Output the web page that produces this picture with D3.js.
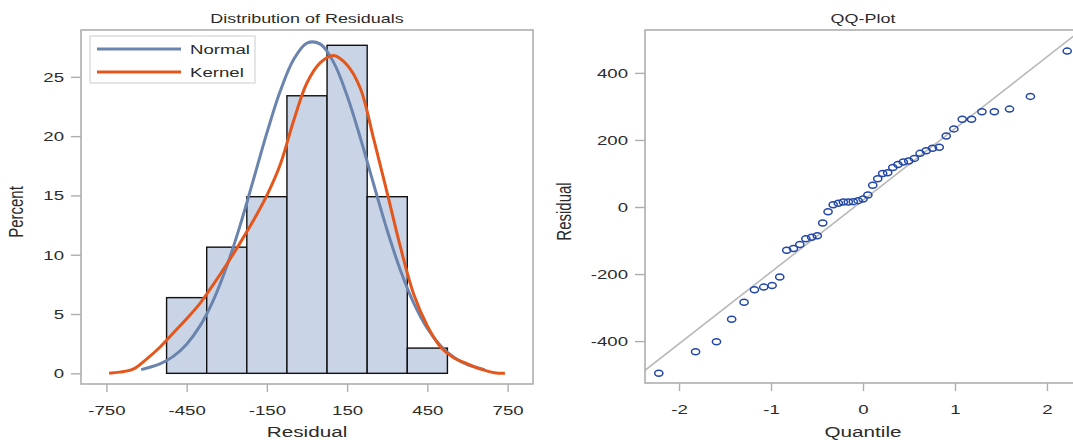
<!DOCTYPE html>
<html>
<head>
<meta charset="utf-8">
<title>Residual diagnostics</title>
<style>
  body { margin: 0; background: #fff; }
  svg text { font-family: "Liberation Sans", Arial, sans-serif; fill: #2b2b2b; }
  .frame { fill: none; stroke: #aeaeae; stroke-width: 1.6px; }
  .tick line { stroke: #aeaeae; stroke-width: 1.4px; }
  .bar { fill: #c9d5e6; stroke: #111; stroke-width: 1.4px; }
</style>
</head>
<body>
<div id="chart"></div>
<script src="https://d3js.org/d3.v7.min.js"></script>
<script>
// residuals, sorted
var residuals = [-496, -432, -402, -335, -284, -247, -239, -234, -209, -129, -124, -112,
  -95, -90, -86, -48, -14, 7, 11, 15, 15, 16, 19, 24, 36, 65, 84, 100, 102, 118, 127,
  134, 137, 145, 160, 168, 175, 178, 212, 233, 262, 262, 284, 284, 292, 330, 465];

// normal quantiles for the QQ plot (x of each point)
var quantiles = [-2.220, -1.820, -1.593, -1.428, -1.293, -1.180, -1.079, -0.988, -0.905,
  -0.829, -0.756, -0.687, -0.621, -0.558, -0.497, -0.438, -0.380, -0.324, -0.268, -0.214,
  -0.160, -0.106, -0.053, 0, 0.053, 0.106, 0.160, 0.214, 0.268, 0.324, 0.380, 0.438, 0.497,
  0.558, 0.621, 0.687, 0.756, 0.829, 0.905, 0.988, 1.079, 1.180, 1.293, 1.428, 1.593,
  1.820, 2.220];

// histogram bin edges
var binEdges = [-525, -375, -225, -75, 75, 225, 375, 525];

// fitted normal curve (percent)
var normalX = [-620, -550, -500, -450, -400, -350, -300, -250, -200, -150, -100, -50, 0,
  50, 100, 150, 200, 250, 300, 350, 400, 450, 500, 550, 600, 664];
var normalPct = [0.31, 0.79, 1.43, 2.46, 4.00, 6.18, 9.03, 12.48, 16.35, 20.27, 23.80,
  26.46, 27.85, 27.76, 26.20, 23.41, 19.81, 15.88, 12.04, 8.65, 5.88, 3.79, 2.31, 1.33,
  0.73, 0.31];

// kernel density curve (percent)
var kernelX = [-740, -700, -650, -600, -550, -500, -450, -400, -350, -300, -250, -200,
  -150, -100, -50, 0, 50, 100, 150, 200, 250, 300, 350, 400, 450, 500, 550, 600, 650,
  700, 740];
var kernelPct = [0, 0.1, 0.35, 1.2, 2.2, 3.4, 4.6, 5.9, 7.5, 9.2, 11.0, 12.9, 15.0, 17.6,
  21.3, 24.5, 26.2, 26.8, 26.0, 24.0, 19.7, 15.2, 10.6, 6.6, 4.0, 2.2, 1.3, 0.8, 0.35,
  0.05, 0];

// reference line of the QQ plot
var qqIntercept = 20, qqSlope = 214;

var histTicksX = [-750, -450, -150, 150, 450, 750];
var histTicksY = [0, 5, 10, 15, 20, 25];
var qqTicksX = [-2, -1, 0, 1, 2];
var qqTicksY = [-400, -200, 0, 200, 400];

var SX = 1.38; // the original picture is stretched sideways

var width = 1073, height = 440;
var svg = d3.select("#chart").append("svg")
  .attr("width", width).attr("height", height);

// plain hyphen minus, like the original
var fmt = function(d) { return String(d); };

function label(g, txt, x, y, size, anchor, rot) {
  return g.append("text")
    .attr("transform", "translate(" + x + "," + y + ") scale(" + SX + ",1)" + (rot ? " rotate(-90)" : ""))
    .attr("text-anchor", anchor || "middle")
    .style("font-size", size + "px")
    .text(txt);
}

function styleAxis(g, horiz, off) {
  g.select(".domain").remove();
  g.selectAll(".tick text")
    .style("font-size", "13.5px")
    .attr("fill", "#2b2b2b");
  if (horiz) {
    g.selectAll(".tick text").attr("transform", "scale(" + SX + ",1)").attr("y", off);
  } else {
    g.selectAll(".tick text").attr("x", -off / SX).attr("transform", "scale(" + SX + ",1)");
  }
}

// ---------- left panel: histogram ----------
var L = { x0: 81, x1: 533, y0: 30, y1: 384 };
var x1 = d3.scaleLinear().domain([-845, 845]).range([L.x0, L.x1]);
var y1 = d3.scaleLinear().domain([-0.9, 28.95]).range([L.y1, L.y0]);

var left = svg.append("g");
label(left, "Distribution of Residuals", (L.x0 + L.x1) / 2, 23, 13, "middle");

var bins = d3.bin().domain([binEdges[0], binEdges[binEdges.length - 1]])
  .thresholds(binEdges.slice(1, -1))(residuals);

left.selectAll(".bar").data(bins).enter().append("rect")
  .attr("class", "bar")
  .attr("x", function(d) { return x1(d.x0); })
  .attr("width", function(d) { return x1(d.x1) - x1(d.x0); })
  .attr("y", function(d) { return y1(d.length / residuals.length * 100); })
  .attr("height", function(d) { return y1(0) - y1(d.length / residuals.length * 100); });

var line1 = d3.line().curve(d3.curveCatmullRom)
  .x(function(d) { return x1(d[0]); })
  .y(function(d) { return y1(d[1]); });

left.append("path")
  .datum(d3.zip(normalX, normalPct))
  .attr("d", line1)
  .attr("fill", "none").attr("stroke", "#6a84ad").attr("stroke-width", 3);

left.append("path")
  .datum(d3.zip(kernelX, kernelPct))
  .attr("d", line1)
  .attr("fill", "none").attr("stroke", "#e3561c").attr("stroke-width", 3);

left.append("rect").attr("class", "frame")
  .attr("x", L.x0).attr("y", L.y0)
  .attr("width", L.x1 - L.x0).attr("height", L.y1 - L.y0);

left.append("g").attr("transform", "translate(0," + L.y1 + ")")
  .call(d3.axisBottom(x1).tickValues(histTicksX).tickFormat(fmt).tickSize(8).tickSizeOuter(0))
  .call(styleAxis, true, 21);
left.append("g").attr("transform", "translate(" + L.x0 + ",0)")
  .call(d3.axisLeft(y1).tickValues(histTicksY).tickFormat(fmt).tickSize(10).tickSizeOuter(0))
  .call(styleAxis, false, 17);

label(left, "Residual", (L.x0 + L.x1) / 2, 437, 15, "middle");
label(left, "Percent", 23, (L.y0 + L.y1) / 2 + 5, 15, "middle", true);

// legend
var lg = left.append("g");
lg.append("rect").attr("x", 90).attr("y", 36).attr("width", 165).attr("height", 47)
  .attr("fill", "#fff").attr("stroke", "#d4d4d4").attr("stroke-width", 1.2);
[["Normal", "#6a84ad", 49], ["Kernel", "#e3561c", 72]].forEach(function(e) {
  lg.append("line").attr("x1", 97).attr("x2", 181).attr("y1", e[2]).attr("y2", e[2])
    .attr("stroke", e[1]).attr("stroke-width", 3);
  label(lg, e[0], 190, e[2] + 5, 13.5, "start");
});

// ---------- right panel: QQ plot ----------
var R = { x0: 645, x1: 1081, y0: 30, y1: 383 };
var x2 = d3.scaleLinear().domain([-2.37, 2.37]).range([R.x0, R.x1]);
var y2 = d3.scaleLinear().domain([-525, 528]).range([R.y1, R.y0]);

var right = svg.append("g");
label(right, "QQ-Plot", (R.x0 + R.x1) / 2, 23, 13, "middle");

svg.append("clipPath").attr("id", "qqclip").append("rect")
  .attr("x", R.x0).attr("y", R.y0).attr("width", R.x1 - R.x0).attr("height", R.y1 - R.y0);

var qx = x2.domain();
right.append("line")
  .attr("clip-path", "url(#qqclip)")
  .attr("x1", x2(qx[0])).attr("y1", y2(qqIntercept + qqSlope * qx[0]))
  .attr("x2", x2(qx[1])).attr("y2", y2(qqIntercept + qqSlope * qx[1]))
  .attr("stroke", "#b8b8b8").attr("stroke-width", 1.6);

right.selectAll(".pt").data(d3.zip(quantiles, residuals)).enter().append("ellipse")
  .attr("class", "pt")
  .attr("cx", function(d) { return x2(d[0]); })
  .attr("cy", function(d) { return y2(d[1]); })
  .attr("rx", 4.1).attr("ry", 3)
  .attr("fill", "none").attr("stroke", "#2146a8").attr("stroke-width", 1.5);

right.append("rect").attr("class", "frame")
  .attr("x", R.x0).attr("y", R.y0)
  .attr("width", R.x1 - R.x0).attr("height", R.y1 - R.y0);

right.append("g").attr("transform", "translate(0," + R.y1 + ")")
  .call(d3.axisBottom(x2).tickValues(qqTicksX).tickFormat(fmt).tickSize(8).tickSizeOuter(0))
  .call(styleAxis, true, 21);
right.append("g").attr("transform", "translate(" + R.x0 + ",0)")
  .call(d3.axisLeft(y2).tickValues(qqTicksY).tickFormat(fmt).tickSize(10).tickSizeOuter(0))
  .call(styleAxis, false, 17);

label(right, "Quantile", (R.x0 + R.x1) / 2, 437, 15, "middle");
label(right, "Residual", 571, (R.y0 + R.y1) / 2 + 5, 15, "middle", true);
</script>
</body>
</html>
